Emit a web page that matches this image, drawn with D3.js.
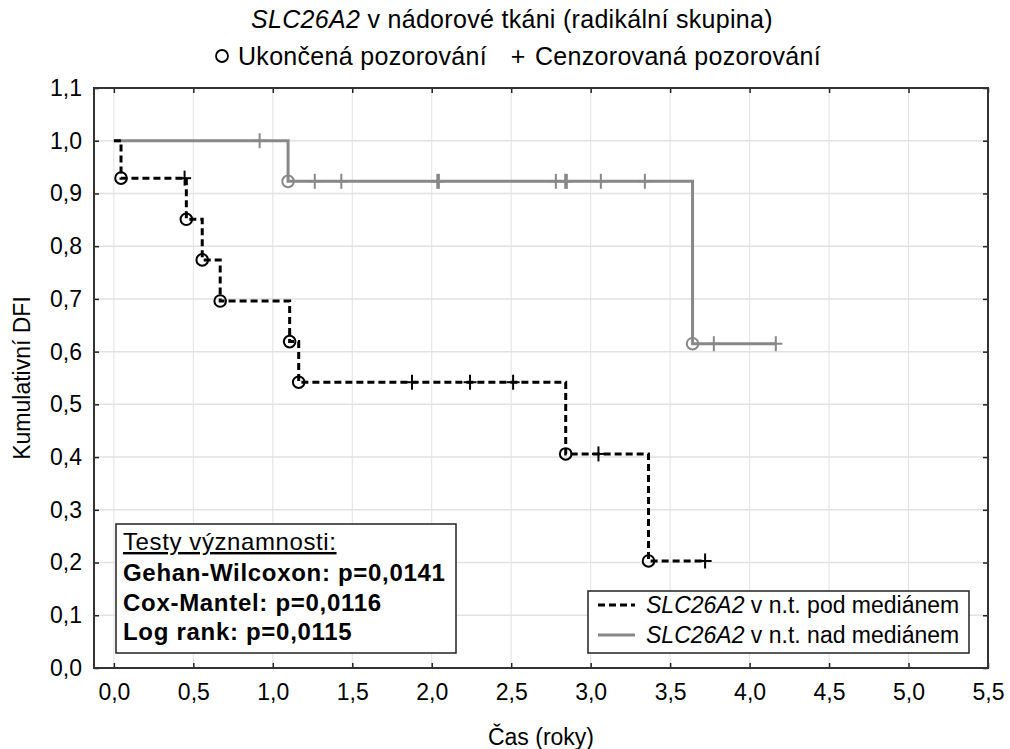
<!DOCTYPE html>
<html><head><meta charset="utf-8">
<script src="https://cdn.jsdelivr.net/npm/d3@7"></script>
<style>
body{margin:0;background:#fff;}
text{font-family:"Liberation Sans",Arial,sans-serif;fill:#000;}
</style></head>
<body>
<svg id="chart" width="1010" height="749"></svg>
<script>
// ---- data ----
const xTicks = [0,0.5,1,1.5,2,2.5,3,3.5,4,4.5,5,5.5];
const yTicks = [0,0.1,0.2,0.3,0.4,0.5,0.6,0.7,0.8,0.9,1.0,1.1];

// low expression group (dashed black)
const lowStepT = [0, 0.045, 0.456, 0.556, 0.669, 1.106, 1.163, 2.843, 3.364];
const lowStepS = [1.0, 0.929, 0.851, 0.774, 0.696, 0.619, 0.542, 0.406, 0.203];
const lowCensT = [0.445, 1.876, 2.241, 2.512, 3.049, 3.72];
const lowCensS = [0.929, 0.542, 0.542, 0.542, 0.406, 0.203];

// high expression group (solid gray)
const highStepT = [0, 1.096, 3.641];
const highStepS = [1.0, 0.923, 0.615];
const highCensT = [0.917, 1.264, 1.431, 2.035, 2.045, 2.781, 2.84, 2.85, 3.064, 3.341, 3.775, 4.165];
const highCensS = [1.0, 0.923, 0.923, 0.923, 0.923, 0.923, 0.923, 0.923, 0.923, 0.923, 0.615, 0.615];

const testLabels = ["Gehan-Wilcoxon: p=0,0141", "Cox-Mantel: p=0,0116", "Log rank: p=0,0115"];

// ---- layout ----
const svg = d3.select("#chart");
const L = 94, R = 988, T = 88, B = 668;
const x = d3.scaleLinear().domain([-0.125, 5.5]).range([L, R]);
const y = d3.scaleLinear().domain([0, 1.1]).range([B, T]);
const fmt = d => d3.format(".1f")(d).replace(".", ",");
const FS = 23;

// grid
const grid = svg.append("g");
grid.selectAll(".gx").data(xTicks).join("line")
  .attr("x1", d => x(d)).attr("x2", d => x(d)).attr("y1", T).attr("y2", B)
  .attr("stroke", "#e2e2e2").attr("stroke-width", 1);
grid.selectAll(".gy").data(yTicks).join("line")
  .attr("x1", L).attr("x2", R).attr("y1", d => y(d)).attr("y2", d => y(d))
  .attr("stroke", "#e2e2e2").attr("stroke-width", 1.5);

// axes (ticks inward)
const axB = svg.append("g").attr("transform", `translate(0,${B})`)
  .call(d3.axisBottom(x).tickValues(xTicks).tickFormat(fmt).tickSizeInner(-5).tickSizeOuter(0).tickPadding(16));
const axL = svg.append("g").attr("transform", `translate(${L},0)`)
  .call(d3.axisLeft(y).tickValues(yTicks).tickFormat(fmt).tickSizeInner(-5).tickSizeOuter(0).tickPadding(12));
const axT = svg.append("g").attr("transform", `translate(0,${T})`)
  .call(d3.axisTop(x).tickValues(xTicks).tickFormat("").tickSizeInner(-5).tickSizeOuter(0));
const axR = svg.append("g").attr("transform", `translate(${R},0)`)
  .call(d3.axisRight(y).tickValues(yTicks).tickFormat("").tickSizeInner(-5).tickSizeOuter(0));
[axB, axL, axT, axR].forEach(a => {
  a.select(".domain").remove();
  a.selectAll(".tick line").attr("stroke", "#222").attr("stroke-width", 1.5);
  a.selectAll(".tick text").style("font-family", '"Liberation Sans",Arial,sans-serif').style("font-size", FS + "px").attr("fill", "#000");
});
axB.selectAll(".tick text").attr("dy", "0.71em");

// frame
svg.append("rect").attr("x", L).attr("y", T).attr("width", R - L).attr("height", B - T)
  .attr("fill", "none").attr("stroke", "#333").attr("stroke-width", 2);

// step curves
function stepPoints(ts, ss, end) {
  const pts = [];
  for (let i = 0; i < ts.length; i++) {
    if (i > 0) pts.push([ts[i], ss[i - 1]]);
    pts.push([ts[i], ss[i]]);
  }
  pts.push([end, ss[ss.length - 1]]);
  return pts;
}
const line = d3.line().x(d => x(d[0])).y(d => y(d[1]));
const GRAY = "#888888";

function drawGroup(stepT, stepS, censT, censS, color, dash) {
  const g = svg.append("g");
  const end = d3.max(censT.concat(stepT));
  g.append("path").attr("d", line(stepPoints(stepT, stepS, end)))
    .attr("fill", "none").attr("stroke", color).attr("stroke-width", 3)
    .attr("stroke-dasharray", dash);
  g.selectAll(".ev").data(stepT.slice(1).map((t, i) => [t, stepS[i + 1]])).join("circle")
    .attr("cx", d => x(d[0])).attr("cy", d => y(d[1])).attr("r", 5.8)
    .attr("fill", "none").attr("stroke", color).attr("stroke-width", 2);
  const cs = g.selectAll(".cs").data(censT.map((t, i) => [t, censS[i]])).join("g")
    .attr("transform", d => `translate(${x(d[0])},${y(d[1])})`);
  cs.append("line").attr("x1", 0).attr("x2", 0).attr("y1", -7.5).attr("y2", 7.5)
    .attr("stroke", color).attr("stroke-width", 2);
  cs.append("line").attr("x1", -6.5).attr("x2", 6.5).attr("y1", 0).attr("y2", 0)
    .attr("stroke", color).attr("stroke-width", 2);
}
drawGroup(highStepT, highStepS, highCensT, highCensS, GRAY, null);
drawGroup(lowStepT, lowStepS, lowCensT, lowCensS, "#000", "7,4");

// title
const HFS = 25, HLS = "0.3px";
const title = svg.append("text").attr("x", 512).attr("y", 28).attr("text-anchor", "middle")
  .style("font-size", HFS + "px").style("letter-spacing", HLS);
title.append("tspan").attr("font-style", "italic").text("SLC26A2");
title.append("tspan").text(" v nádorové tkáni (radikální skupina)");
svg.append("circle").attr("cx", 222).attr("cy", 56).attr("r", 6).attr("fill", "none").attr("stroke", "#000").attr("stroke-width", 1.8);
svg.append("text").attr("x", 238).attr("y", 65).style("font-size", HFS + "px").style("letter-spacing", HLS).text("Ukončená pozorování");
svg.append("text").attr("x", 518).attr("y", 65).attr("text-anchor", "middle").style("font-size", HFS + "px").text("+");
svg.append("text").attr("x", 535).attr("y", 65).style("font-size", HFS + "px").style("letter-spacing", HLS).text("Cenzorovaná pozorování");

// axis titles
svg.append("text").attr("x", 541).attr("y", 745).attr("text-anchor", "middle").style("font-size", FS + "px").text("Čas (roky)");
svg.append("text").attr("transform", `translate(30,${(T + B) / 2}) rotate(-90)`).attr("text-anchor", "middle").style("font-size", FS + "px").text("Kumulativní DFI");

// stats box
const SFS = 24;
svg.append("rect").attr("x", 116).attr("y", 524).attr("width", 340).attr("height", 129)
  .attr("fill", "#fff").attr("stroke", "#222").attr("stroke-width", 1.5);
svg.append("text").attr("x", 123).attr("y", 550).style("font-size", SFS + "px").style("letter-spacing", "0.6px")
  .attr("text-decoration", "underline").text("Testy významnosti:");
svg.selectAll(".tst").data(testLabels).join("text")
  .attr("x", 123).attr("y", (d, i) => 581 + i * 29.5).style("font-size", SFS + "px").style("letter-spacing", "0.7px")
  .attr("font-weight", "bold").text(d => d);

// legend
const legItems = [{label: " v n.t. pod mediánem", color: "#000", dash: "7,4"},
                  {label: " v n.t. nad mediánem", color: GRAY, dash: null}];
svg.append("rect").attr("x", 588).attr("y", 591).attr("width", 381).attr("height", 62)
  .attr("fill", "#fff").attr("stroke", "#222").attr("stroke-width", 1.5);
legItems.forEach((it, i) => {
  const yy = 605 + i * 30;
  svg.append("line").attr("x1", 598).attr("x2", 635).attr("y1", yy).attr("y2", yy)
    .attr("stroke", it.color).attr("stroke-width", 3).attr("stroke-dasharray", it.dash);
  const t = svg.append("text").attr("x", 646).attr("y", yy + 8).style("font-size", FS + "px");
  t.append("tspan").attr("font-style", "italic").text("SLC26A2");
  t.append("tspan").text(it.label);
});
</script>
</body></html>
